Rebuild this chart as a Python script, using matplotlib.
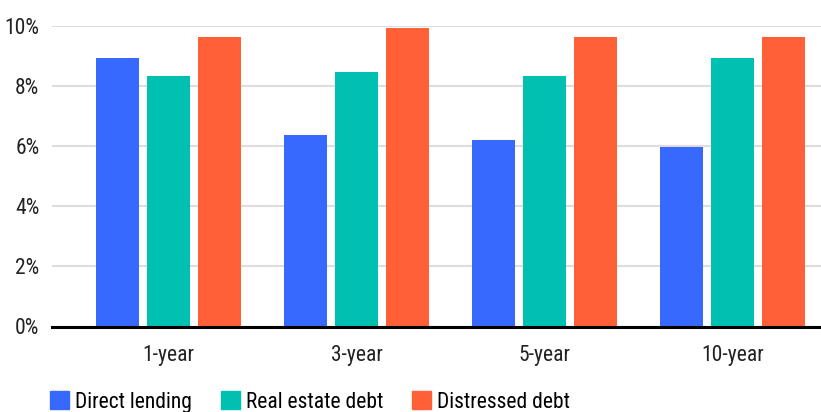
import matplotlib.pyplot as plt
import matplotlib.patches as mpatches
from matplotlib import font_manager
import numpy as np

# data
periods = ["1-year", "3-year", "5-year", "10-year"]
direct_lending = [8.95, 6.38, 6.22, 5.98]
real_estate_debt = [8.35, 8.48, 8.35, 8.95]
distressed_debt = [9.62, 9.95, 9.62, 9.62]
series_names = ["Direct lending", "Real estate debt", "Distressed debt"]
yticks = [0, 2, 4, 6, 8, 10]

colors = ["#3869FF", "#00C0B2", "#FF6038"]

# look for a narrow face, the reference uses a condensed sans
names = set(f.name for f in font_manager.fontManager.ttflist)
fam = None
for cand in ["Roboto Condensed", "Liberation Sans Narrow", "DejaVu Sans Condensed",
             "Open Sans Condensed", "Noto Sans Condensed"]:
    if cand in names:
        fam = cand
        break
fs = 15.5
if fam is None:
    fam = "Roboto"
    fs = 14
plt.rcParams['font.family'] = [fam, 'DejaVu Sans']

fig = plt.figure(figsize=(8.21, 4.12), dpi=100)
ax = fig.add_axes([52 / 821, (412 - 326.5) / 412, (821 - 52) / 821, (326.5 - 26) / 412])

x = np.arange(len(periods))
w = 43 / 188
step = 51 / 188
for i, vals in enumerate([direct_lending, real_estate_debt, distressed_debt]):
    ax.bar(x + (i - 1) * step, vals, width=w, color=colors[i], zorder=3)

ax.set_xlim(-(168.5 - 52) / 188, (821 - 168.5) / 188)
ax.set_ylim(0, 10)
ax.set_yticks(yticks)
ax.set_yticklabels(["%d%%" % v for v in yticks], fontsize=fs, color="#222222")
ax.set_xticks(x)
ax.set_xticklabels(periods, fontsize=fs, color="#222222")
ax.tick_params(axis="both", length=0)
ax.tick_params(axis="x", pad=13)
ax.tick_params(axis="y", pad=9)
ax.yaxis.grid(True, color="#dddddd", linewidth=1.5, zorder=0)
for s in ["top", "right", "left", "bottom"]:
    ax.spines[s].set_visible(False)
ax.axhline(0, color="black", linewidth=2.2, zorder=4, clip_on=False)

handles = [mpatches.Rectangle((0, 0), 1, 1, color=c) for c in colors]
fig.legend(handles, series_names, loc="center left", bbox_to_anchor=(50 / 821, 1 - 402 / 412),
           ncol=3, frameon=False, fontsize=fs, handlelength=0.88, handleheight=0.88,
           handletextpad=0.28, columnspacing=1.35, borderaxespad=0, borderpad=0)

fig.savefig("out.png", dpi=100)
